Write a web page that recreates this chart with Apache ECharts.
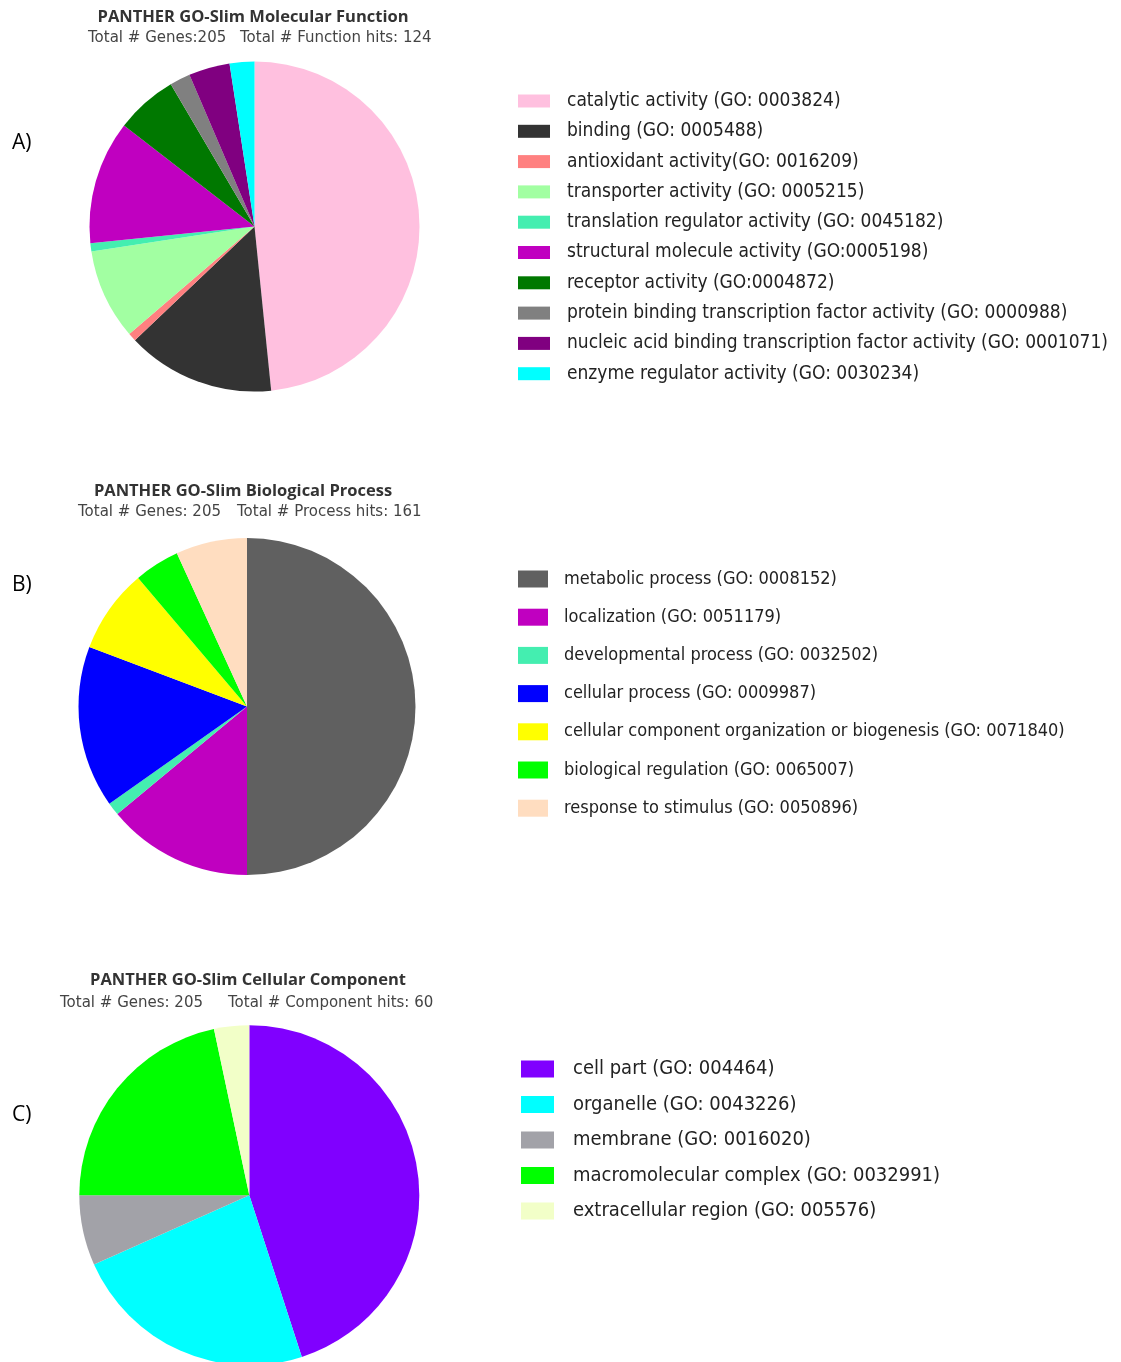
<!DOCTYPE html>
<html>
<head>
<meta charset="utf-8">
<script src="https://cdn.jsdelivr.net/npm/echarts@6/dist/echarts.min.js"></script>
<style>
html,body{margin:0;padding:0;background:#fff;}
#chart{width:1121px;height:1362px;}
</style>
</head>
<body>
<div id="chart"></div>
<script>
// ---- Data ----
const mfNames = [
  'catalytic activity (GO: 0003824)',
  'binding (GO: 0005488)',
  'antioxidant activity(GO: 0016209)',
  'transporter activity (GO: 0005215)',
  'translation regulator activity (GO: 0045182)',
  'structural molecule activity (GO:0005198)',
  'receptor activity (GO:0004872)',
  'protein binding transcription factor activity (GO: 0000988)',
  'nucleic acid binding transcription factor activity (GO: 0001071)',
  'enzyme regulator activity (GO: 0030234)'
];
const mfValues = [60, 18, 1, 11, 1, 15, 7.5, 2.5, 5, 3];
const mfColors = ['#FFC0DF', '#333333', '#FF8080', '#A2FFA2', '#44EEB0', '#C000C0', '#007800', '#808080', '#800080', '#00FFFF'];

const bpNames = [
  'metabolic process (GO: 0008152)',
  'localization (GO: 0051179)',
  'developmental process (GO: 0032502)',
  'cellular process (GO: 0009987)',
  'cellular component organization or biogenesis (GO: 0071840)',
  'biological regulation (GO: 0065007)',
  'response to stimulus (GO: 0050896)'
];
const bpValues = [80.5, 22.5, 2, 25, 13, 7, 11];
const bpColors = ['#606060', '#C000C0', '#44EEB0', '#0000FF', '#FFFF00', '#00FF00', '#FFDDC0'];

const ccNames = [
  'cell part (GO: 004464)',
  'organelle (GO: 0043226)',
  'membrane (GO: 0016020)',
  'macromolecular complex (GO: 0032991)',
  'extracellular region (GO: 005576)'
];
const ccValues = [27, 14, 4, 13, 2];
const ccColors = ['#8000FF', '#00FFFF', '#A2A2A8', '#00FF00', '#F2FFC8'];

const titles = [
  'PANTHER GO-Slim Molecular Function',
  'PANTHER GO-Slim Biological Process',
  'PANTHER GO-Slim Cellular Component'
];
const subtitleGenes = ['Total # Genes:205', 'Total # Genes: 205', 'Total # Genes: 205'];
const subtitleHits = ['Total # Function hits: 124', 'Total # Process hits: 161', 'Total # Component hits: 60'];
const panelLabels = ['A)', 'B)', 'C)'];

// ---- Build ----
function mkData(names, values, colors) {
  return names.map((n, i) => ({ name: n, value: values[i], itemStyle: { color: colors[i] } }));
}

const legendFont = '"DejaVu Sans Condensed", "DejaVu Sans", sans-serif';
const titleFont = '"Open Sans", "Noto Sans", sans-serif';
const subFont = '"DejaVu Sans", sans-serif';

const chart = echarts.init(document.getElementById('chart'), null, { renderer: 'canvas' });

const titleStyle = { fontFamily: titleFont, fontWeight: 'bold', fontSize: 16.5, color: '#333' };
const subStyle = { fontFamily: subFont, fontWeight: 'normal', fontSize: 15, color: '#444' };

const option = {
  backgroundColor: '#ffffff',
  animation: false,
  title: [
    { text: titles[0], left: 253, top: 9, textAlign: 'center', padding: 0, textStyle: titleStyle },
    { text: subtitleGenes[0], left: 88, top: 31, padding: 0, textStyle: subStyle },
    { text: subtitleHits[0], left: 240, top: 31, padding: 0, textStyle: subStyle },
    { text: titles[1], left: 243, top: 483, textAlign: 'center', padding: 0, textStyle: titleStyle },
    { text: subtitleGenes[1], left: 78, top: 505, padding: 0, textStyle: subStyle },
    { text: subtitleHits[1], left: 237, top: 505, padding: 0, textStyle: subStyle },
    { text: titles[2], left: 248, top: 972, textAlign: 'center', padding: 0, textStyle: titleStyle },
    { text: subtitleGenes[2], left: 60, top: 996, padding: 0, textStyle: subStyle },
    { text: subtitleHits[2], left: 228, top: 996, padding: 0, textStyle: subStyle }
  ],
  legend: [
    {
      data: mfNames, orient: 'vertical', left: 518, top: 91, padding: 0, icon: 'rect',
      itemWidth: 32, itemHeight: 13, itemGap: 10.3, selectedMode: false,
      textStyle: { fontFamily: legendFont, fontSize: 19, color: '#222', lineHeight: 20, padding: [0, 0, 0, 12] }
    },
    {
      data: bpNames, orient: 'vertical', left: 518, top: 568, padding: 0, icon: 'rect',
      itemWidth: 30, itemHeight: 17, itemGap: 16.2, selectedMode: false,
      textStyle: { fontFamily: legendFont, fontSize: 18, color: '#222', lineHeight: 22, padding: [0, 0, 0, 11] }
    },
    {
      data: ccNames, orient: 'vertical', left: 521, top: 1058, padding: 0, icon: 'rect',
      itemWidth: 33, itemHeight: 17, itemGap: 13.5, selectedMode: false,
      textStyle: { fontFamily: legendFont, fontSize: 20, color: '#222', lineHeight: 22, padding: [0, 0, 0, 14] }
    }
  ],
  graphic: [
    { type: 'text', left: 12, top: 133, style: { text: panelLabels[0], fontFamily: titleFont, fontSize: 21, fill: '#000' } },
    { type: 'text', left: 12, top: 575, style: { text: panelLabels[1], fontFamily: titleFont, fontSize: 21, fill: '#000' } },
    { type: 'text', left: 12, top: 1105, style: { text: panelLabels[2], fontFamily: titleFont, fontSize: 21, fill: '#000' } }
  ],
  series: [
    {
      type: 'pie', center: [254.5, 226.5], radius: 165, startAngle: 90, clockwise: true,
      label: { show: false }, labelLine: { show: false }, silent: true,
      emphasis: { disabled: true }, itemStyle: { borderWidth: 0 },
      data: mkData(mfNames, mfValues, mfColors)
    },
    {
      type: 'pie', center: [247, 706.5], radius: 168.5, startAngle: 90, clockwise: true,
      label: { show: false }, labelLine: { show: false }, silent: true,
      emphasis: { disabled: true }, itemStyle: { borderWidth: 0 },
      data: mkData(bpNames, bpValues, bpColors)
    },
    {
      type: 'pie', center: [249.3, 1195.3], radius: 170, startAngle: 90, clockwise: true,
      label: { show: false }, labelLine: { show: false }, silent: true,
      emphasis: { disabled: true }, itemStyle: { borderWidth: 0 },
      data: mkData(ccNames, ccValues, ccColors)
    }
  ]
};
chart.setOption(option);
</script>
</body>
</html>
